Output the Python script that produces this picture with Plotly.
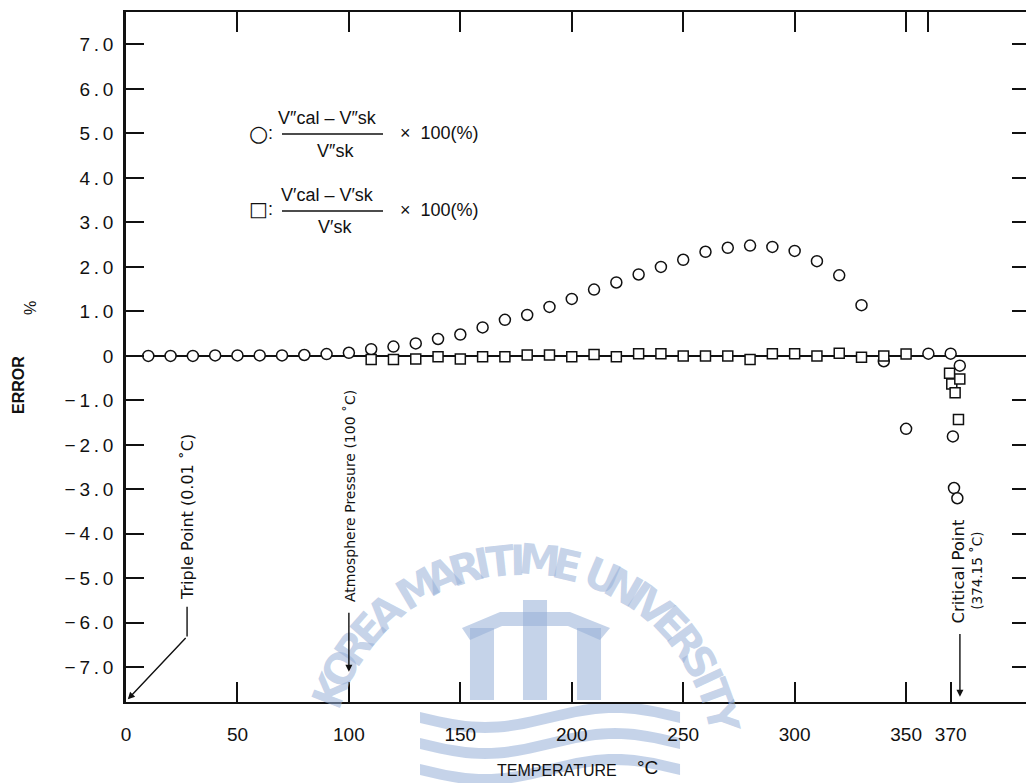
import math
import plotly.graph_objects as go

# ---------------- data ----------------
temp_vap = [10, 20, 30, 40, 50, 60, 70, 80, 90, 100, 110, 120, 130,
            140, 150, 160, 170, 180, 190, 200, 210, 220, 230, 240, 250,
            260, 270, 280, 290, 300, 310, 320, 330, 340, 350, 360, 370,
            371, 371, 371.5, 373, 374.1]
err_vap = [0.0, 0.0, 0.0, 0.01, 0.01, 0.01, 0.01, 0.02, 0.04, 0.07, 0.15, 0.21, 0.28,
           0.38, 0.48, 0.64, 0.81, 0.92, 1.10, 1.28, 1.49, 1.65, 1.83, 2.00, 2.16,
           2.34, 2.43, 2.48, 2.45, 2.36, 2.13, 1.81, 1.14, -0.12, -1.64, 0.05, 0.05,
           -0.54, -1.81, -2.97, -3.20, -0.22]

temp_liq = [110, 120, 130, 140, 150, 160, 170, 180, 190, 200, 210, 220, 230, 240,
            250, 260, 270, 280, 290, 300, 310, 320, 330, 340, 350,
            369.5, 370.5, 372, 373.5, 374.1]
err_liq = [-0.08, -0.08, -0.07, -0.02, -0.07, -0.02, -0.02, 0.02, 0.02, -0.02, 0.03, -0.02, 0.05, 0.05,
           0.0, 0.0, 0.0, -0.08, 0.05, 0.05, 0.0, 0.06, -0.03, 0.0, 0.04,
           -0.39, -0.63, -0.83, -1.43, -0.52]

x_ticks_bottom = [0, 50, 100, 150, 200, 250, 300, 350, 370]
x_tick_labels = ["0", "50", "100", "150", "200", "250", "300", "350", "370"]
x_ticks_top = [50, 100, 150, 200, 250, 300, 350, 360]
y_ticks = [7, 6, 5, 4, 3, 2, 1, 0, -1, -2, -3, -4, -5, -6, -7]
TS = "\u2009"
y_tick_labels = ["7" + TS + "." + TS + "0", "6" + TS + "." + TS + "0", "5" + TS + "." + TS + "0",
                 "4" + TS + "." + TS + "0", "3" + TS + "." + TS + "0", "2" + TS + "." + TS + "0",
                 "1" + TS + "." + TS + "0", "0",
                 "\u2212" + TS + "1" + TS + "." + TS + "0", "\u2212" + TS + "2" + TS + "." + TS + "0",
                 "\u2212" + TS + "3" + TS + "." + TS + "0", "\u2212" + TS + "4" + TS + "." + TS + "0",
                 "\u2212" + TS + "5" + TS + "." + TS + "0", "\u2212" + TS + "6" + TS + "." + TS + "0",
                 "\u2212" + TS + "7" + TS + "." + TS + "0"]

triple_point = 0.01
atm_point = 100
critical_point = 374.15

watermark_text = "KOREA MARITIME UNIVERSITY"

X_RANGE = [0, 403.8]
Y_RANGE = [-7.78, 7.73]

FONT = "Liberation Sans, Arial, sans-serif"
INK = "#111111"
WM = "rgba(150,175,215,0.55)"

# plot-area pixel helpers (plot area: x 126..1026, y 12..702)
L, R, T, B = 126, 1026, 12, 702
def pxx(x):
    return (x - L) / (R - L)
def pxy(y):
    return (B - y) / (B - T)

fig = go.Figure()
fig.add_trace(go.Scatter(
    x=temp_vap, y=err_vap, mode="markers", name="vapour",
    marker=dict(symbol="circle", size=11, color="white",
                line=dict(color=INK, width=1.5)),
    hoverinfo="x+y", showlegend=False))
fig.add_trace(go.Scatter(
    x=temp_liq, y=err_liq, mode="markers", name="liquid",
    xaxis="x2", yaxis="y2",
    marker=dict(symbol="square", size=10, color="white",
                line=dict(color=INK, width=1.5)),
    hoverinfo="x+y", showlegend=False))

axis_common = dict(showgrid=False, tickcolor=INK, linecolor=INK, color=INK)

fig.update_layout(
    width=1026, height=783,
    margin=dict(l=L, r=1026 - R, t=T, b=783 - B, pad=0, autoexpand=False),
    paper_bgcolor="white", plot_bgcolor="white",
    font=dict(family=FONT, color=INK, size=18),
    xaxis=dict(range=X_RANGE, tickvals=x_ticks_bottom, ticktext=x_tick_labels,
               ticks="inside", ticklen=20, tickwidth=1.5,
               showline=True, linewidth=2, zeroline=False,
               tickfont=dict(size=19, family=FONT), ticklabelstandoff=14,
               **axis_common),
    xaxis2=dict(range=X_RANGE, overlaying="x", side="top", anchor="y",
                tickvals=x_ticks_top, ticks="inside", ticklen=20, tickwidth=1.5,
                showticklabels=False, showline=True, linewidth=2, zeroline=False,
                **axis_common),
    yaxis=dict(range=Y_RANGE, tickvals=y_ticks, ticktext=y_tick_labels,
               ticks="inside", ticklen=18, tickwidth=1.5,
               showline=True, linewidth=2.5,
               zeroline=True, zerolinewidth=2.2, zerolinecolor=INK,
               tickfont=dict(size=19, family=FONT), ticklabelstandoff=6,
               **axis_common),
    yaxis2=dict(range=Y_RANGE, overlaying="y", side="right", anchor="x2",
                tickvals=[v for v in y_ticks if v != 0], ticks="inside",
                ticklen=14, tickwidth=1.5, showticklabels=False,
                showline=False, zeroline=False, **axis_common),
)

ann = []
shapes = []

# ---- faint repository watermark (arc of letters + simple emblem) ----
wm_cx, wm_cy, wm_r = 522, 765, 205
th0, th1 = 162.0, 10.0
widths = [0.55 if c == " " else 0.5 if c == "I" else 1.3 if c == "M" else 1.0
          for c in watermark_text]
total = sum(widths)
acc = 0.0
for ch, w in zip(watermark_text, widths):
    pos = acc + w / 2
    acc += w
    if ch == " ":
        continue
    th = th0 - (th0 - th1) * pos / total
    cx = wm_cx + wm_r * math.cos(math.radians(th))
    cy = wm_cy - wm_r * math.sin(math.radians(th))
    ann.append(dict(text="<b>" + ch + "</b>", x=pxx(cx), y=pxy(cy),
                    xref="paper", yref="paper", xanchor="center", yanchor="middle",
                    textangle=90 - th, showarrow=False,
                    font=dict(size=42, color=WM, family="DejaVu Sans")))

def ppath(points):
    return "M " + " L ".join(f"{pxx(x):.4f},{pxy(y):.4f}" for x, y in points) + " Z"

# emblem pillars
for x0, x1, ytop in [(470, 494, 628), (523, 547, 600), (577, 601, 628)]:
    shapes.append(dict(type="path", xref="paper", yref="paper", layer="below",
                       path=ppath([(x0, 700), (x0, ytop), (x1, ytop), (x1, 700)]),
                       fillcolor=WM, line=dict(width=0)))
shapes.append(dict(type="path", xref="paper", yref="paper", layer="below",
                   path=ppath([(462, 628), (500, 612), (570, 612), (610, 628),
                               (600, 640), (568, 626), (502, 626), (470, 640)]),
                   fillcolor=WM, line=dict(width=0)))
# emblem waves
for yoff in (0, 26, 52):
    pts = []
    for k in range(0, 41):
        xx = 420 + k * 6.5
        yy = 712 + yoff + 10 * math.sin((xx - 420) / 260 * 2 * math.pi)
        pts.append((xx, yy))
    pts += [(x, y + 11) for x, y in reversed(pts)]
    shapes.append(dict(type="path", xref="paper", yref="paper", layer="below",
                       path=ppath(pts), fillcolor=WM, line=dict(width=0)))

def label(text, x, y, size, **kw):
    d = dict(text=text, x=pxx(x), y=pxy(y), xref="paper", yref="paper",
             xanchor=kw.pop("xanchor", "center"), yanchor="middle",
             showarrow=False, font=dict(size=size, family=kw.pop("family", FONT)))
    d.update(kw)
    return d

# axis titles
ann.append(label("<b>ERROR</b>", 18, 385, 16, textangle=-90))
ann.append(label("%", 30, 308, 16, textangle=-90))
ann.append(label("TEMPERATURE", 557, 770, 16))
ann.append(label("\u00b0C", 647, 768, 19))

# key
ann.append(label("\u25cb", 258, 133, 22, family="DejaVu Sans"))
ann.append(label(":", 270, 133, 18))
ann.append(label("V\u2033cal \u2013 V\u2033sk", 327, 118, 18))
ann.append(label("V\u2033sk", 335, 151, 18))
ann.append(label("\u00d7  100(%)", 398, 133, 18, xanchor="left"))
ann.append(label("\u25a1", 258, 209, 20, family="DejaVu Sans"))
ann.append(label(":", 270, 209, 18))
ann.append(label("V\u2032cal \u2013 V\u2032sk", 327, 195, 18))
ann.append(label("V\u2032sk", 335, 227, 18))
ann.append(label("\u00d7  100(%)", 398, 210, 18, xanchor="left"))

# reference-point labels
ann.append(dict(text="Triple Point (0.01 \u02daC)", x=27.8, y=-3.62, textangle=-90,
                showarrow=False, font=dict(size=16, family="DejaVu Sans")))
ann.append(dict(text="Atmosphere Pressure (100 \u02daC)", x=100.5, y=-3.15, textangle=-90,
                showarrow=False, font=dict(size=14, family="DejaVu Sans")))
ann.append(dict(text="Critical Point", x=373.7, y=-4.85, textangle=-90,
                showarrow=False, font=dict(size=16.5, family="DejaVu Sans")))
ann.append(dict(text="(374.15 \u02daC)", x=381.8, y=-4.83, textangle=-90,
                showarrow=False, font=dict(size=13.5, family="DejaVu Sans")))

# arrows
arrow_style = dict(showarrow=True, arrowhead=2, arrowsize=1, arrowwidth=1.4,
                   arrowcolor=INK, axref="x", ayref="y", text="")
ann.append(dict(x=triple_point + 0.8, y=-7.72, ax=27.4, ay=-6.31, **arrow_style))
ann.append(dict(x=atm_point, y=-7.1, ax=atm_point, ay=-5.74, **arrow_style))
ann.append(dict(x=critical_point, y=-7.66, ax=critical_point, ay=-6.22, **arrow_style))
fig.update_layout(annotations=ann)

shapes += [
    dict(type="line", xref="x", yref="y", x0=27.4, x1=27.4, y0=-5.64, y1=-6.31,
         line=dict(color=INK, width=1.4)),
    dict(type="line", xref="paper", yref="paper", x0=pxx(282), x1=pxx(383),
         y0=pxy(134), y1=pxy(134), line=dict(color=INK, width=1.5)),
    dict(type="line", xref="paper", yref="paper", x0=pxx(282), x1=pxx(383),
         y0=pxy(211), y1=pxy(211), line=dict(color=INK, width=1.5)),
]
fig.update_layout(shapes=shapes)

fig.write_html("out.html")
